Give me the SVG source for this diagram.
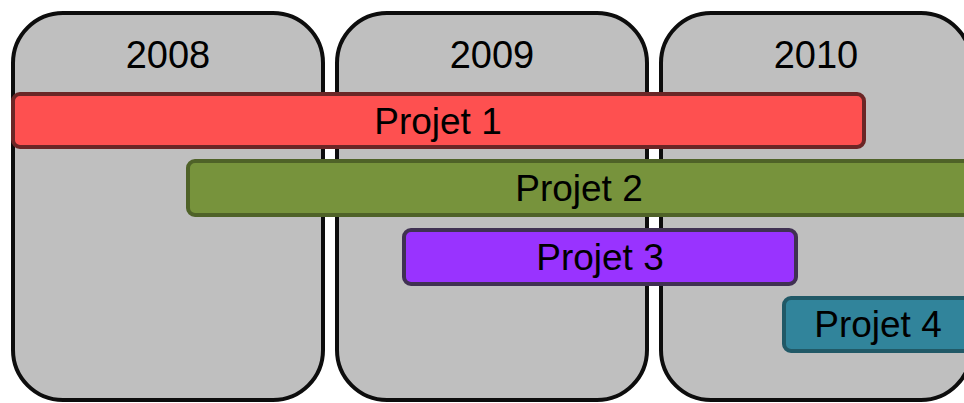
<svg xmlns="http://www.w3.org/2000/svg" width="964" height="403" viewBox="0 0 964 403">
<style>
.year rect{fill:#bfbfbf;stroke:#0d0d0d;stroke-width:4}
text{font-family:"Liberation Sans",Arial,sans-serif;fill:#000;text-anchor:middle}
.yt{font-size:38px}
.pt{font-size:37px}
.bar{stroke-width:4}
</style>
<rect width="964" height="403" fill="#fff"/>
<g id="year-2008" class="year"><rect x="13" y="13" width="310" height="387" rx="50" ry="50"/><text class="yt" x="168" y="68">2008</text></g>
<g id="year-2009" class="year"><rect x="337" y="13" width="310" height="387" rx="50" ry="50"/><text class="yt" x="492" y="68">2009</text></g>
<g id="year-2010" class="year"><rect x="661" y="13" width="310" height="387" rx="50" ry="50"/><text class="yt" x="816" y="68">2010</text></g>
<g id="projet-1"><rect class="bar" x="13" y="94" width="851" height="53" rx="7" fill="#fe5050" stroke="#6b2626"/><text class="pt" x="438" y="134">Projet 1</text></g>
<g id="projet-2"><rect class="bar" x="188" y="161" width="784" height="54" rx="7" fill="#77933c" stroke="#4f6228"/><text class="pt" x="579" y="201">Projet 2</text></g>
<g id="projet-3"><rect class="bar" x="404" y="230" width="392" height="54" rx="7" fill="#9933ff" stroke="#403152"/><text class="pt" x="600" y="270">Projet 3</text></g>
<g id="projet-4"><rect class="bar" x="784" y="298" width="192" height="53" rx="7" fill="#31849b" stroke="#215967"/><text class="pt" x="878" y="337">Projet 4</text></g>
<g id="connectors"/>
</svg>
